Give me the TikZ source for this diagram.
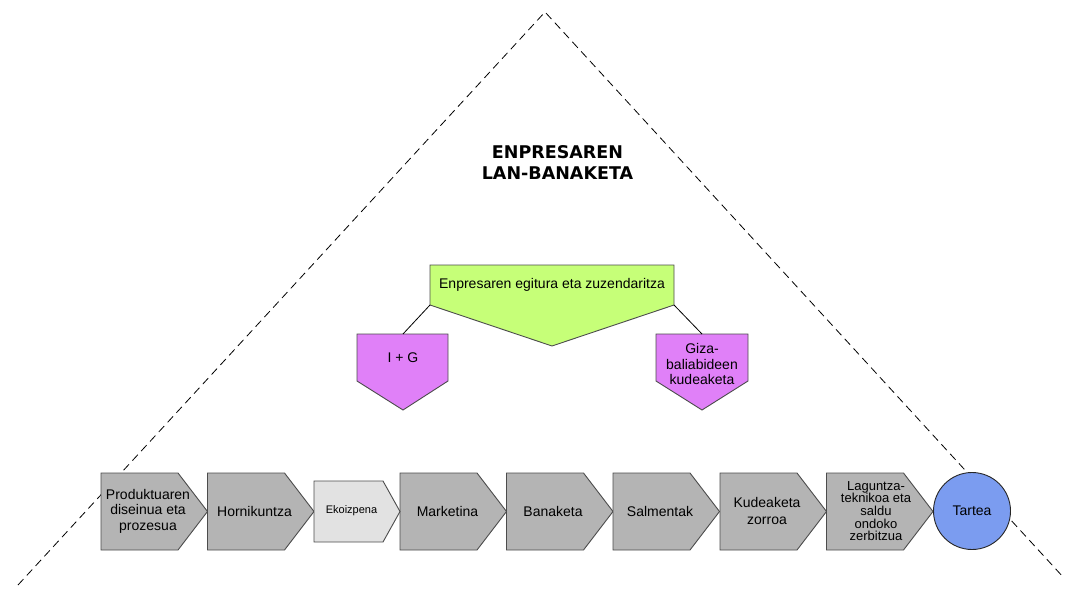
\documentclass[tikz,border=0pt]{standalone}
\usepackage{fontspec}
\setmainfont{Liberation Sans}
\newfontfamily\titlefont{DejaVu Sans}
\definecolor{boxgrey}{HTML}{B4B4B4}
\definecolor{lightgrey}{HTML}{E2E2E2}
\definecolor{leafgreen}{HTML}{C6FF78}
\definecolor{violet}{HTML}{E080F8}
\definecolor{skyblue}{HTML}{7B9CF0}

\begin{document}
\begin{tikzpicture}[x=1pt, y=-1pt,
    outline/.style={draw=black!70, line width=0.9pt},
    txt/.style={align=center, font=\fontsize{14}{15.5}\selectfont},
    smalltxt/.style={align=center, font=\fontsize{13}{12.7}\selectfont}]

    \useasboundingbox (0,0) rectangle (1070,589);

    % the big dashed triangle
    \coordinate (apex) at (545,12);
    \coordinate (foot1) at (18,585);
    \coordinate (foot2) at (1064,578);
    \draw [dash pattern=on 8pt off 5pt, line width=0.8pt] (foot1) -- (apex) -- (foot2);

    \node (title) at (557.5,162.5) [align=center, font=\titlefont\bfseries\fontsize{17.5}{21}\selectfont] {ENPRESAREN\\LAN-BANAKETA};

    % top of the firm
    \filldraw [outline, fill=leafgreen] (430,265) -- (674,265) -- (674,305) -- (552,346) -- (430,305) -- cycle;
    \filldraw [outline, fill=violet] (357,334) -- (448,334) -- (448,381) -- (403,410) -- (357,381) -- cycle;
    \filldraw [outline, fill=violet] (656,334) -- (748,334) -- (748,381) -- (702,410) -- (656,381) -- cycle;

    \node (a) at (552,285) [txt] {Enpresaren egitura eta zuzendaritza};
    \node (b) at (403,358) [txt] {I + G};
    \node (c) at (702,364) [txt] {Giza-\\baliabideen\\kudeaketa};

    \coordinate (a1) at (430,305);
    \coordinate (a2) at (674,305);
    \coordinate (b1) at (403,334);
    \coordinate (c1) at (702,334);
    \draw [line width=0.8pt] (a1) -- (b1);
    \draw [line width=0.8pt] (a2) -- (c1);

    % value chain
    \foreach \x in {101,207.5,400,506.5,613,720,826.5}
        \filldraw [outline, fill=boxgrey] (\x,473) -- ++(77,0) -- ++(29.5,38.5) -- ++(-29.5,38.5) -- ++(-77,0) -- cycle;
    \filldraw [outline, fill=lightgrey] (314,481) -- (383,481) -- (400,511.5) -- (383,542) -- (314,542) -- cycle;
    \filldraw [draw=black!85, line width=0.9pt, fill=skyblue] (972,511) circle (38.5);

    \node (d) at (148,511) [txt] {Produktuaren\\diseinua eta\\prozesua};
    \node (e) at (254.5,511) [txt] {Hornikuntza};
    \node (f) at (351.5,511) [font=\fontsize{11}{13}\selectfont] {Ekoizpena};
    \node (g) at (447.5,511) [txt] {Marketina};
    \node (h) at (553,511) [txt] {Banaketa};
    \node (i) at (660,511) [txt] {Salmentak};
    \node (j) at (767,511) [align=center, font=\fontsize{14}{17}\selectfont] {Kudeaketa\\zorroa};
    \node (k) at (876,511) [smalltxt] {Laguntza-\\teknikoa eta\\saldu\\ondoko\\zerbitzua};
    \node (l) at (972,511) [txt] {Tartea};

\end{tikzpicture}
\end{document}
